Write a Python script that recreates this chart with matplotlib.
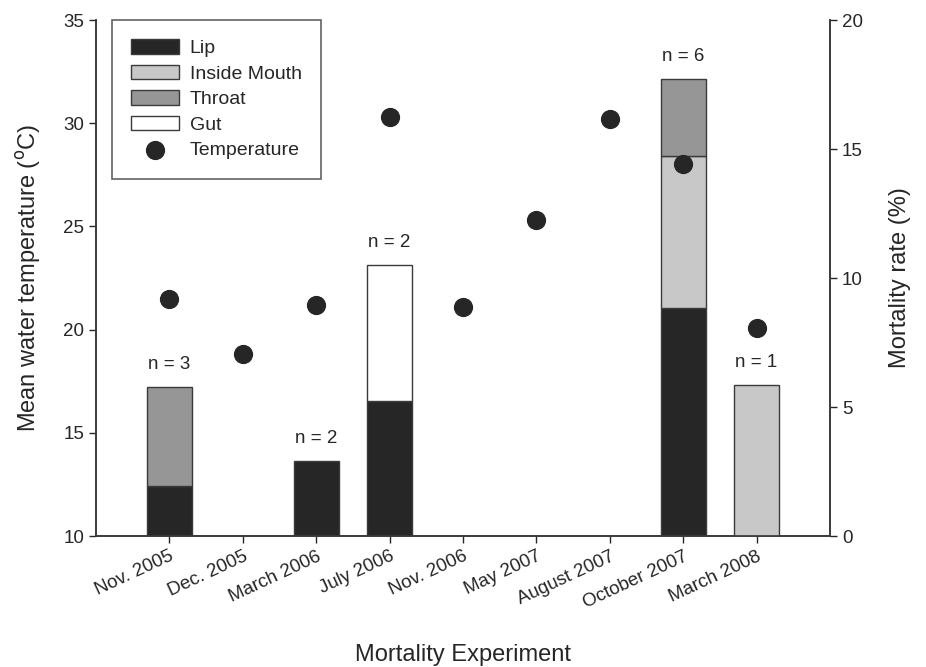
import matplotlib.pyplot as plt
import numpy as np

plt.rcParams['font.family'] = ['Liberation Sans', 'DejaVu Sans']

experiments = ["Nov. 2005", "Dec. 2005", "March 2006", "July 2006", "Nov. 2006",
               "May 2007", "August 2007", "October 2007", "March 2008"]
temperature = [21.5, 18.8, 21.2, 30.3, 21.1, 25.3, 30.2, 28.0, 20.1]
lip          = [1.92, 0, 2.90, 5.24, 0, 0, 0, 8.83, 0]
inside_mouth = [0, 0, 0, 0, 0, 0, 0, 5.91, 5.87]
throat       = [3.87, 0, 0, 0, 0, 0, 0, 2.96, 0]
gut          = [0, 0, 0, 5.25, 0, 0, 0, 0, 0]
n_labels     = ["n = 3", "", "n = 2", "n = 2", "", "", "", "n = 6", "n = 1"]

dark = "#262626"
edge = "#3a3a3a"

fig = plt.figure(figsize=(9.26, 6.67), dpi=100)
ax = fig.add_axes([0.1037, 0.1964, 0.7926, 0.7736])
ax2 = ax.twinx()

x = np.arange(len(experiments))
w = 0.61
layers = [("Lip", lip, dark), ("Inside Mouth", inside_mouth, "#c8c8c8"),
          ("Throat", throat, "#969696"), ("Gut", gut, "white")]
bottom = np.zeros(len(x))
handles = []
for name, vals, col in layers:
    vals = np.array(vals)
    keep = vals > 0
    b = ax2.bar(x[keep], vals[keep], w, bottom=bottom[keep], color=col,
                edgecolor=edge, linewidth=1.0, label=name, zorder=2)
    handles.append(b)
    bottom += vals

for xi, top, lab in zip(x, bottom, n_labels):
    if lab:
        ax2.annotate(lab, (xi, top), xytext=(0, 10), textcoords="offset points",
                     ha="center", va="bottom", fontsize=13.5, color=dark)

ax2.set_ylim(0, 20)
ax2.set_yticks([0, 5, 10, 15, 20])
ax2.set_ylabel("Mortality rate (%)", fontsize=17, color=dark, va="center")
ax2.yaxis.set_label_coords(1.0954, 0.5)

# temperature dots use the left scale but are drawn above the bars
ax3 = ax.twinx()
ax3.set_ylim(10, 35)
ax3.axis("off")
dots = ax3.scatter(x, temperature, s=165, color=dark, zorder=3, label="Temperature")

ax.set_ylim(10, 35)
ax.set_yticks([10, 15, 20, 25, 30, 35])
ax.set_xlim(-1, 9)
ax.set_xticks(x)
ax.set_xticklabels(experiments, rotation=25, ha="right", rotation_mode="anchor",
                   fontsize=13.5)
ax.set_ylabel("Mean water temperature ($^{\\mathrm{o}}$C)", fontsize=17,
              color=dark, va="center")
ax.yaxis.set_label_coords(-0.0926, 0.5)
ax.set_xlabel("Mortality Experiment", fontsize=17, color=dark, va="center")
ax.xaxis.set_label_coords(0.5, -0.231)

for a in (ax, ax2):
    a.tick_params(labelsize=13.5, colors=dark, length=5, width=1)
    for s in a.spines.values():
        s.set_color(edge)
        s.set_linewidth(1.2)
ax.spines["top"].set_visible(False)
ax2.spines["top"].set_visible(False)

leg = ax3.legend(handles + [dots], ["Lip", "Inside Mouth", "Throat", "Gut", "Temperature"],
                 loc="upper left", bbox_to_anchor=(0.0218, 1.0), fontsize=14,
                 frameon=True, fancybox=False, edgecolor=edge, borderpad=1.0,
                 handlelength=2.42, handleheight=0.77, labelspacing=0.38,
                 handletextpad=0.57, borderaxespad=0.0)
leg.get_frame().set_linewidth(1.2)
for t in leg.get_texts():
    t.set_color(dark)

fig.savefig("out.png", dpi=100)
